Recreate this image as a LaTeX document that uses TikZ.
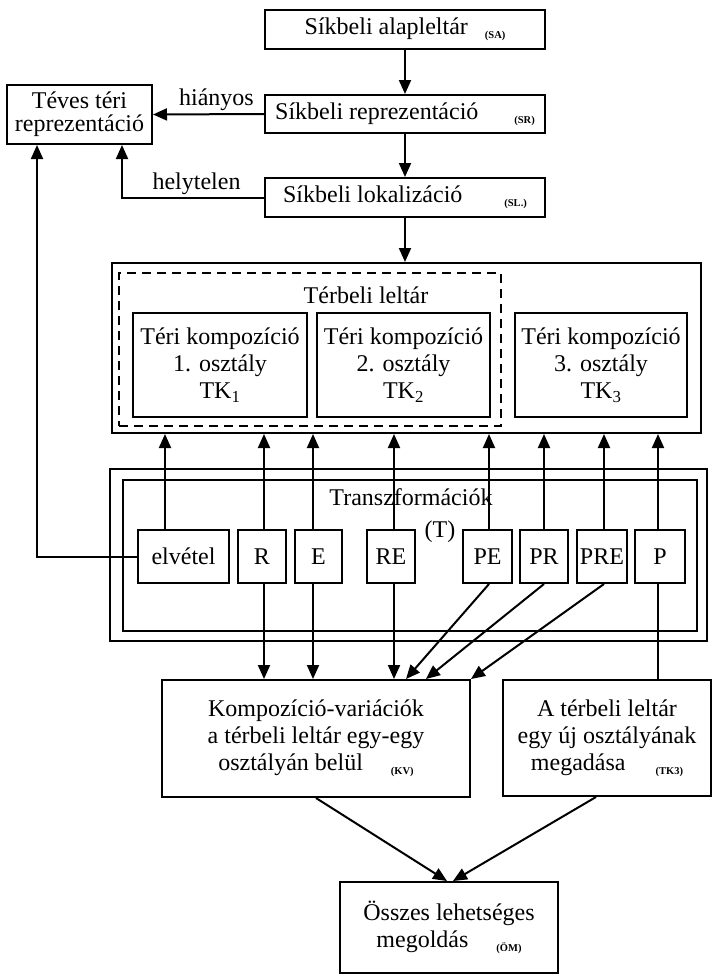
\documentclass[tikz,border=0pt]{standalone}
\usepackage{fontspec}
\setmainfont{Liberation Serif}
\usetikzlibrary{arrows.meta}
\newcommand\mylbl[1]{\raisebox{-4pt}{\fontsize{10.5}{10.5}\selectfont\bfseries(#1)}}
\begin{document}
\begin{tikzpicture}[x=1pt,y=-1pt,
  font=\fontsize{24}{27}\selectfont,
  lw/.style={line width=2pt},
  box/.style={draw, lw, inner sep=0pt, align=center},
  dbox/.style={draw, lw, inner sep=0pt, dash pattern=on 9pt off 6pt},
  arr/.style={lw, -{Triangle[length=14pt,width=12pt]}},
  ln/.style={lw}]
\path[use as bounding box] (0,0) rectangle (712,975);

% top chain
\node[box, minimum width=280pt, minimum height=39pt] (SA) at (405,29.5) {Síkbeli alapleltár\hspace{17pt}\mylbl{SA}};
\node[box, minimum width=280pt, minimum height=38pt] (SR) at (405,114) {Síkbeli reprezentáció\hspace{36pt}\mylbl{SR}};
\node[box, minimum width=280pt, minimum height=39pt] (SL) at (405,197.5) {Síkbeli lokalizáció\hspace{42pt}\mylbl{SL.}};
\node[box, minimum width=145pt, minimum height=59pt, font=\fontsize{24}{23}\selectfont] (TV) at (79.5,114.5) {Téves téri\\reprezentáció};
\node (hi) at (216.5,100) {hiányos};
\node (he) at (196.5,184) {helytelen};

% Térbeli leltár
\node[box, minimum width=589pt, minimum height=170pt] (TER) at (406.5,348) {};
\node[dbox, minimum width=382pt, minimum height=153pt] (DL) at (310,349.5) {};
\node (TLt) at (366,295) {Térbeli leltár};
\node[box, minimum width=174pt, minimum height=104pt] (TK1) at (220,365) {Téri kompozíció\\1. osztály\\TK\textsubscript{1}};
\node[box, minimum width=173pt, minimum height=104pt] (TK2) at (403.5,365) {Téri kompozíció\\2. osztály\\TK\textsubscript{2}};
\node[box, minimum width=172pt, minimum height=104pt] (TK3) at (601,365) {Téri kompozíció\\3. osztály\\TK\textsubscript{3}};

% Transzformációk
\node[box, minimum width=597pt, minimum height=172pt] (TRO) at (408.5,555) {};
\node[box, minimum width=574pt, minimum height=151pt] (TRI) at (410,555.5) {};
\node (TRt) at (411,497) {Transzformációk};
\node (Tt) at (440,532) {(T)};
\node[box, minimum width=91pt, minimum height=53pt] (elv) at (183.5,556.5) {elvétel};
\node[box, minimum width=48pt, minimum height=53pt] (R) at (262,556.5) {R};
\node[box, minimum width=47pt, minimum height=53pt] (E) at (318.5,556.5) {E};
\node[box, minimum width=48pt, minimum height=53pt] (RE) at (391,556.5) {RE};
\node[box, minimum width=49pt, minimum height=53pt] (PE) at (487.5,556.5) {PE};
\node[box, minimum width=48pt, minimum height=53pt] (PR) at (544,556.5) {PR};
\node[box, minimum width=50pt, minimum height=53pt] (PRE) at (602,556.5) {PRE};
\node[box, minimum width=50pt, minimum height=53pt] (P) at (660,556.5) {P};

% bottom
\node[box, minimum width=308pt, minimum height=117pt] (KV) at (316,738.5) {Kompozíció-variációk\\a térbeli leltár egy-egy\\osztályán belül\hspace{28pt}\mylbl{KV}};
\node[box, minimum width=208pt, minimum height=116pt] (NEW) at (607,738) {A térbeli leltár\\egy új osztályának\\megadása\hspace{30pt}\mylbl{TK3}};
\node[box, minimum width=218pt, minimum height=91pt] (OM) at (449,927.5) {Összes lehetséges\\megoldás\hspace{28pt}\mylbl{ÖM}};

% connectors top
\draw[arr] (SA.south) -- (SR.north);
\draw[arr] (SR.south) -- (SL.north);
\draw[arr] (SL.south) -- (SL.south |- TER.north);
\draw[arr] (SR.west) -- (TV.east);
\draw[arr] (SL.west) -| ([xshift=116pt]TV.south west);
\draw[arr] (elv.west) -| ([xshift=31pt]TV.south west);

% up arrows
\draw[arr] ([xshift=-18.5pt]elv.north) -- ([xshift=-18.5pt]elv.north |- TER.south);
\draw[arr] ([xshift=2pt]R.north) -- ([xshift=2pt]R.north |- TER.south);
\draw[arr] ([xshift=-5.5pt]E.north) -- ([xshift=-5.5pt]E.north |- TER.south);
\draw[arr] ([xshift=3pt]RE.north) -- ([xshift=3pt]RE.north |- TER.south);
\draw[arr] ([xshift=1.5pt]PE.north) -- ([xshift=1.5pt]PE.north |- TER.south);
\draw[arr] (PR.north) -- (PR.north |- TER.south);
\draw[arr] ([xshift=2pt]PRE.north) -- ([xshift=2pt]PRE.north |- TER.south);
\draw[arr] ([xshift=-2pt]P.north) -- ([xshift=-2pt]P.north |- TER.south);

% down arrows
\draw[arr] ([xshift=2pt]R.south) -- ([xshift=2pt]R.south |- KV.north);
\draw[arr] ([xshift=-5.5pt]E.south) -- ([xshift=-5.5pt]E.south |- KV.north);
\draw[arr] ([xshift=3pt]RE.south) -- ([xshift=3pt]RE.south |- KV.north);
\draw[arr] ([xshift=1.5pt]PE.south) -- ([xshift=245pt]KV.north west);
\draw[arr] (PR.south) -- ([xshift=265pt]KV.north west);
\draw[arr] ([xshift=2pt]PRE.south) -- (KV.north east);
\draw[ln] ([xshift=-2pt]P.south) -- ([xshift=-2pt]P.south |- NEW.north);

% to OM
\draw[arr] ([xshift=155pt]KV.south west) -- ([xshift=-2pt]OM.north);
\draw[arr] ([xshift=94pt]NEW.south west) -- ([xshift=4pt]OM.north);
\end{tikzpicture}
\end{document}
